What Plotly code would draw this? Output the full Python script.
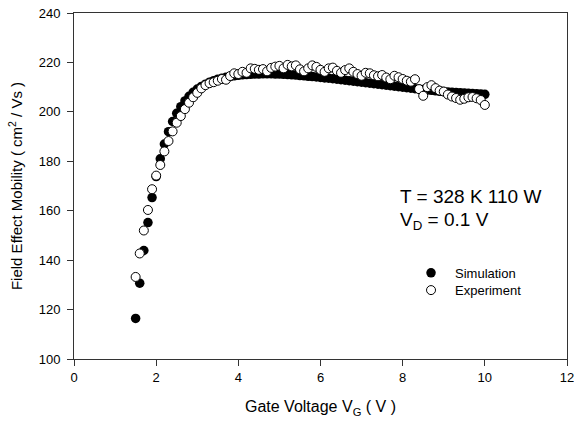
import plotly.graph_objects as go

# ---- data ----
vg = [round(1.5 + 0.1 * i, 1) for i in range(86)]  # gate voltage grid 1.5 .. 10.0 (V)

sim_mobility = [
    116.4, 130.7, 143.9, 155.2, 165.3, 173.8, 181.0, 187.0, 192.0, 196.1,
    199.4, 202.1, 204.4, 206.3, 207.9, 209.2, 210.3, 211.2, 212.0, 212.6,
    213.2, 213.6, 214.0, 214.3, 214.6, 214.8, 215.0, 215.1, 215.2, 215.3,
    215.3, 215.4, 215.4, 215.4, 215.3, 215.3, 215.2, 215.1, 215.0, 214.9,
    214.7, 214.6, 214.4, 214.3, 214.1, 213.9, 213.7, 213.6, 213.4, 213.2,
    213.0, 212.8, 212.6, 212.4, 212.2, 212.0, 211.8, 211.6, 211.4, 211.2,
    211.0, 210.8, 210.6, 210.4, 210.2, 210.0, 209.8, 209.6, 209.4, 209.2,
    209.0, 208.8, 208.7, 208.5, 208.3, 208.2, 208.0, 207.9, 207.8, 207.7,
    207.6, 207.5, 207.4, 207.3, 207.2, 207.1,
]

exp_mobility = [
    133.2, 142.7, 152.0, 160.3, 168.7, 174.2, 178.5, 184.0, 188.2, 192.1,
    195.6, 198.3, 201.1, 203.7, 205.9, 207.7, 209.5, 210.8, 211.6, 212.0,
    212.6, 213.3, 213.0, 214.5, 215.6, 215.3, 216.2, 215.8, 217.6, 217.4,
    217.0, 217.3, 216.4, 217.8, 218.3, 218.6, 217.6, 219.0, 218.4, 218.8,
    217.2, 216.4, 217.6, 218.8, 218.2, 217.0, 216.2, 217.6, 217.9, 216.6,
    215.8, 216.9, 217.6, 216.2, 215.3, 214.6, 215.8, 215.6, 214.8, 214.4,
    214.9, 213.9, 213.2, 214.6, 214.0, 213.3, 212.6, 212.2, 213.2, 209.2,
    206.5, 210.0, 210.8, 209.6, 208.6, 208.2, 207.0, 206.2, 205.6, 204.9,
    205.3, 205.9, 206.0, 205.5, 204.8, 202.8,
]

x_ticks = [0, 2, 4, 6, 8, 10, 12]
y_ticks = [100, 120, 140, 160, 180, 200, 220, 240]

FONT = "Arial, 'Liberation Sans', sans-serif"

fig = go.Figure()
fig.add_trace(go.Scatter(
    x=vg, y=sim_mobility, mode="markers", name="Simulation",
    marker=dict(symbol="circle", size=9.5, color="black", line=dict(width=0)),
    legend="legend",
))
fig.add_trace(go.Scatter(
    x=vg, y=exp_mobility, mode="markers", name="Experiment",
    marker=dict(symbol="circle", size=9, color="white", line=dict(width=1, color="black")),
    legend="legend2",
))

axis_common = dict(
    showline=True, linecolor="#333", linewidth=1, mirror=True,
    ticks="outside", ticklen=6, tickcolor="#333", tickwidth=1,
    showgrid=False, zeroline=False, ticklabeloverflow="allow",
    automargin=False,
    tickfont=dict(family=FONT, size=13, color="black"),
)

fig.update_layout(
    width=574, height=425,
    margin=dict(l=74, r=7, t=13, b=66),
    paper_bgcolor="white", plot_bgcolor="white",
    font=dict(family=FONT, color="black"),
    xaxis=dict(range=[0, 12], tickvals=x_ticks, **axis_common,
               title=dict(text="Gate Voltage V<sub>G</sub> ( V )",
                          font=dict(family=FONT, size=16), standoff=17)),
    yaxis=dict(range=[100, 240], tickvals=y_ticks, **axis_common,
               ticklabelstandoff=4,
               title=dict(text="Field Effect Mobility ( cm<sup>2</sup> / Vs )",
                          font=dict(family=FONT, size=15), standoff=12)),
    legend=dict(x=0.6755, y=0.249, xanchor="left", yanchor="middle",
                bgcolor="rgba(0,0,0,0)", borderwidth=0,
                font=dict(family=FONT, size=13), itemwidth=38),
    legend2=dict(x=0.6755, y=0.199, xanchor="left", yanchor="middle",
                 bgcolor="rgba(0,0,0,0)", borderwidth=0,
                 font=dict(family=FONT, size=13), itemwidth=38),
    showlegend=True,
)

fig.add_annotation(x=7.88, y=165.6, xref="x", yref="y", xanchor="left", yanchor="middle",
                   text="T = 328 K 110 W", showarrow=False,
                   font=dict(family=FONT, size=19, color="black"))
fig.add_annotation(x=7.88, y=155.8, xref="x", yref="y", xanchor="left", yanchor="middle",
                   text="V<sub>D</sub> = 0.1 V", showarrow=False,
                   font=dict(family=FONT, size=19, color="black"))

fig.write_html("out.html")
